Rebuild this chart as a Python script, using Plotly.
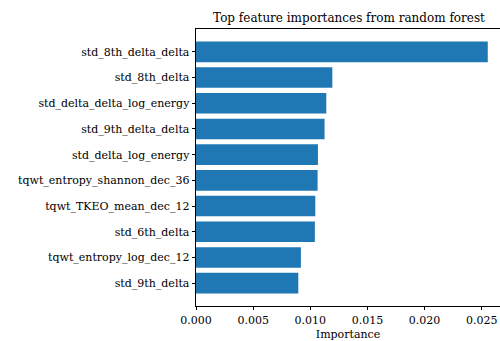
import plotly.graph_objects as go

features = [
    "std_8th_delta_delta",
    "std_8th_delta",
    "std_delta_delta_log_energy",
    "std_9th_delta_delta",
    "std_delta_log_energy",
    "tqwt_entropy_shannon_dec_36",
    "tqwt_TKEO_mean_dec_12",
    "std_6th_delta",
    "tqwt_entropy_log_dec_12",
    "std_9th_delta",
]
importances = [0.02553, 0.01193, 0.01140, 0.01125, 0.01067, 0.01064, 0.01044, 0.01040, 0.00918, 0.00895]
x_ticks = [0.0, 0.005, 0.010, 0.015, 0.020, 0.025]

FONT = "DejaVu Serif"
FS = 11

fig = go.Figure(
    go.Bar(
        x=importances,
        y=features,
        orientation="h",
        width=0.8,
        marker=dict(color="#1f77b4", line=dict(width=0)),
    )
)

fig.update_layout(
    width=500,
    height=341,
    margin=dict(l=196, r=0, t=29, b=35),
    paper_bgcolor="white",
    plot_bgcolor="white",
    showlegend=False,
    font=dict(family=FONT, size=FS, color="black"),
    title=dict(
        text="Top feature importances from random forest",
        x=0.698,
        xref="container",
        xanchor="center",
        y=0.947,
        yref="container",
        yanchor="middle",
        font=dict(family=FONT, size=12, color="black"),
    ),
)

fig.update_xaxes(
    range=[0, 0.0266],
    tickvals=x_ticks,
    tickformat=".3f",
    ticks="outside",
    ticklen=3.5,
    tickwidth=0.8,
    tickcolor="black",
    showline=True,
    linecolor="black",
    linewidth=0.8,
    mirror=True,
    showgrid=False,
    zeroline=False,
    title=dict(text="Importance", standoff=4, font=dict(family=FONT, size=FS, color="black")),
    tickfont=dict(family=FONT, size=FS, color="black"),
)

fig.update_yaxes(
    categoryorder="array",
    categoryarray=features,
    range=[9.89, -0.89],
    ticks="outside",
    ticklen=3.5,
    tickwidth=0.8,
    tickcolor="black",
    showline=True,
    linecolor="black",
    linewidth=0.8,
    mirror=False,
    showgrid=False,
    zeroline=False,
    tickfont=dict(family=FONT, size=FS, color="black"),
)

fig.write_html("out.html")
